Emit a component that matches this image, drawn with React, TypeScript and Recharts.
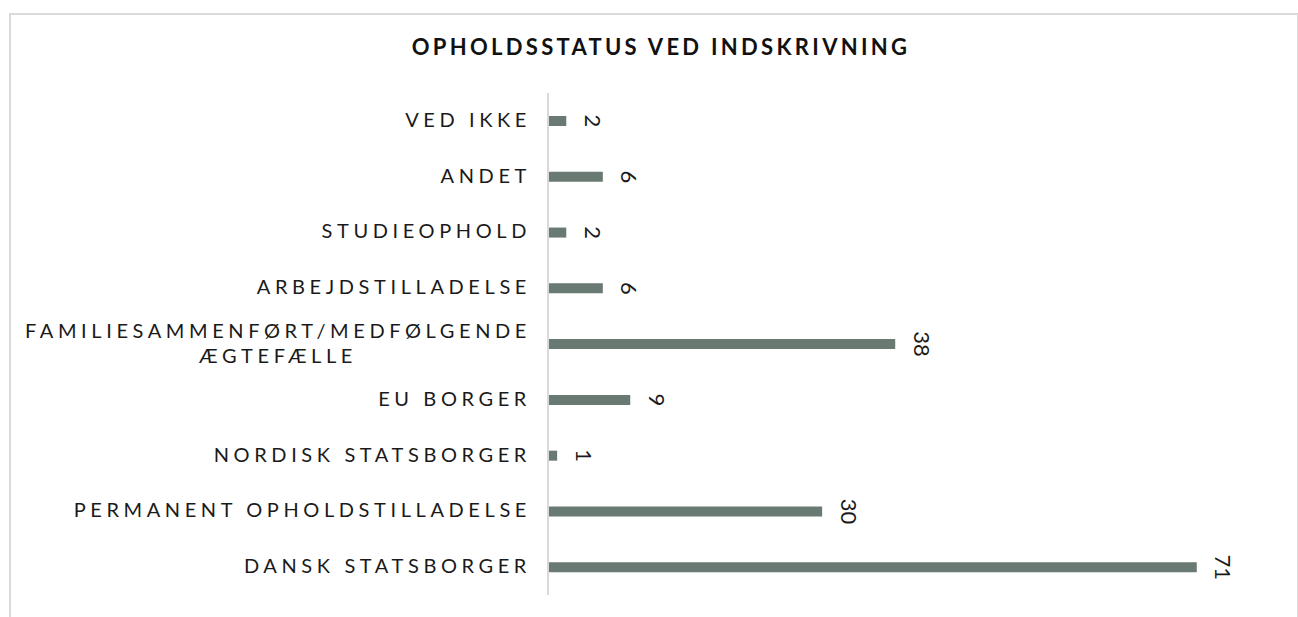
import React from 'react';
import { BarChart, Bar, XAxis, YAxis, LabelList } from 'recharts';

const categories = [
  'VED IKKE',
  'ANDET',
  'STUDIEOPHOLD',
  'ARBEJDSTILLADELSE',
  'FAMILIESAMMENFØRT/MEDFØLGENDE ÆGTEFÆLLE',
  'EU BORGER',
  'NORDISK STATSBORGER',
  'PERMANENT OPHOLDSTILLADELSE',
  'DANSK STATSBORGER',
];
const counts = [2, 6, 2, 6, 38, 9, 1, 30, 71];

const data = categories.map((name, i) => ({ name, count: counts[i] }));

const FONT = 'Lato, "Open Sans", sans-serif';
const LABEL_SIZE = 20;
const LABEL_SPACING = 4.6;

const measure = (text: string) => {
  const ctx = document.createElement('canvas').getContext('2d');
  if (!ctx) return text.length * 16;
  ctx.font = `${LABEL_SIZE}px Lato`;
  return ctx.measureText(text).width + text.length * LABEL_SPACING;
};

const CategoryTick = (props: any) => {
  const { x, y, payload } = props;
  const text: string = payload.value;
  let lines = [text];
  if (text.length > 28) {
    const cut = text.lastIndexOf(' ');
    lines = [text.slice(0, cut), text.slice(cut + 1)];
  }
  const lineHeight = 25;
  const top = y - 2 - ((lines.length - 1) * lineHeight) / 2;
  if (lines.length === 1) {
    return (
      <text x={x} y={y - 2} textAnchor="end" dominantBaseline="central" fontFamily={FONT}
        fontSize={LABEL_SIZE} letterSpacing={LABEL_SPACING} fill="#1a1a1a">
        {text}
      </text>
    );
  }
  const w = Math.max(...lines.map(measure));
  const cx = x - w / 2;
  return (
    <g>
      {lines.map((line, i) => (
        <text key={i} x={cx} y={top + i * lineHeight} textAnchor="middle" dominantBaseline="central"
          fontFamily={FONT} fontSize={LABEL_SIZE} letterSpacing={LABEL_SPACING} fill="#1a1a1a">
          {line}
        </text>
      ))}
    </g>
  );
};

const ValueLabel = (props: any) => {
  const { x, y, width, height, value } = props;
  const cx = x + width + 27;
  const cy = y + height / 2;
  return (
    <text x={cx} y={cy} transform={`rotate(90 ${cx} ${cy})`} textAnchor="middle"
      dominantBaseline="central" fontFamily={FONT} fontSize={22} fill="#1a1a1a">
      {value}
    </text>
  );
};

export default function App() {
  return (
    <div style={{ position: 'absolute', left: 9, top: 13, width: 1286, height: 620,
      border: '2px solid #d9d9d9', background: '#fff' }}>
      <div style={{ position: 'absolute', top: 18, left: 7, width: '100%', textAlign: 'center',
        fontFamily: FONT, fontWeight: 700, fontSize: 22, letterSpacing: 3.3, color: '#111' }}>
        OPHOLDSSTATUS VED INDSKRIVNING
      </div>
      <BarChart width={1286} height={602} data={data} layout="vertical"
        margin={{ top: 78, right: 18, bottom: 22, left: 0 }}>
        <XAxis type="number" domain={[0, 80]} hide />
        <YAxis type="category" dataKey="name" width={537} tickLine={false} tickSize={0}
          tickMargin={17} axisLine={{ stroke: '#d9d9d9', strokeWidth: 2 }}
          tick={<CategoryTick />} interval={0} />
        <Bar dataKey="count" fill="#687a71" barSize={10} isAnimationActive={false}>
          <LabelList dataKey="count" content={<ValueLabel />} />
        </Bar>
      </BarChart>
    </div>
  );
}
